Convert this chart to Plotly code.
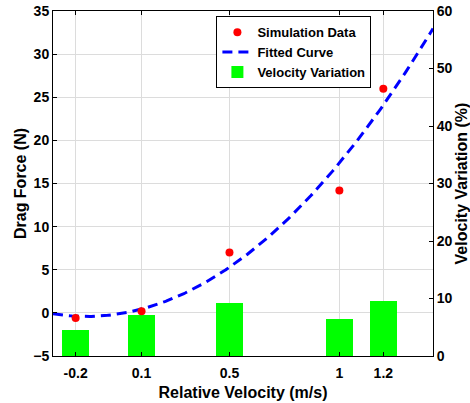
import numpy as np
import plotly.graph_objects as go

# Data
velocity = [-0.2, 0.1, 0.5, 1.0, 1.2]
tick_labels = ["-0.2", "0.1", "0.5", "1", "1.2"]
drag_force = [-0.6, 0.2, 7.0, 14.2, 26.0]
velocity_variation = [4.5, 7.1, 9.2, 6.5, 9.6]

x_range = [-0.303, 1.426]

# Quadratic fit of simulation data
coeffs = np.polyfit(velocity, drag_force, 2)
x_fit = np.linspace(x_range[0], x_range[1], 300)
y_fit = np.polyval(coeffs, x_fit)

font_family = "Liberation Sans, Arial, sans-serif"

fig = go.Figure()

fig.add_trace(go.Bar(
    x=velocity, y=velocity_variation, width=0.123,
    marker=dict(color="#00ff00", line=dict(width=0)),
    name="Velocity Variation", yaxis="y", legendrank=3,
))
fig.add_trace(go.Scatter(
    x=x_fit, y=y_fit, mode="lines",
    line=dict(color="#0000ff", width=3, dash="10px,6px"),
    name="Fitted Curve", yaxis="y2", legendrank=2,
))
fig.add_trace(go.Scatter(
    x=velocity, y=drag_force, mode="markers",
    marker=dict(color="#ff0000", size=8),
    name="Simulation Data", yaxis="y2", legendrank=1,
))

axis_font = dict(family=font_family, size=14, color="black", weight="bold")
title_font = dict(family=font_family, size=16, color="black", weight="bold")

fig.update_layout(
    width=470, height=403,
    margin=dict(l=53, r=37, t=11, b=47),
    paper_bgcolor="white", plot_bgcolor="white",
    showlegend=True,
    bargap=0,
    xaxis=dict(
        range=x_range, tickvals=velocity, ticktext=tick_labels,
        showgrid=True, gridcolor="#dcdcdc", gridwidth=1,
        showline=True, linecolor="black", linewidth=1, mirror="ticks",
        ticks="inside", ticklen=4, tickcolor="black",
        tickfont=axis_font, zeroline=False, automargin=False,
        ticklabelstandoff=4,
        title=dict(text="Relative Velocity (m/s)", font=title_font, standoff=7),
    ),
    yaxis=dict(
        side="right", range=[0, 60], dtick=10,
        showgrid=False, zeroline=False, automargin=False,
        showline=True, linecolor="black", linewidth=1,
        ticks="inside", ticklen=4, tickcolor="black",
        tickfont=axis_font,
        title=dict(text="Velocity Variation (%)", font=title_font, standoff=10),
    ),
    yaxis2=dict(
        overlaying="y", side="left", range=[-5, 35], dtick=5,
        showgrid=True, gridcolor="#dcdcdc", gridwidth=1, zeroline=False,
        showline=True, linecolor="black", linewidth=1, automargin=False,
        ticks="inside", ticklen=4, tickcolor="black",
        tickfont=axis_font,
        title=dict(text="Drag Force (N)", font=title_font, standoff=2),
    ),
    legend=dict(
        x=0.43, y=0.985, xanchor="left", yanchor="top",
        bgcolor="white", bordercolor="black", borderwidth=1,
        font=dict(family=font_family, size=13, color="black", weight="bold"),
        tracegroupgap=0, itemwidth=30,
    ),
)

fig.write_html("out.html")
